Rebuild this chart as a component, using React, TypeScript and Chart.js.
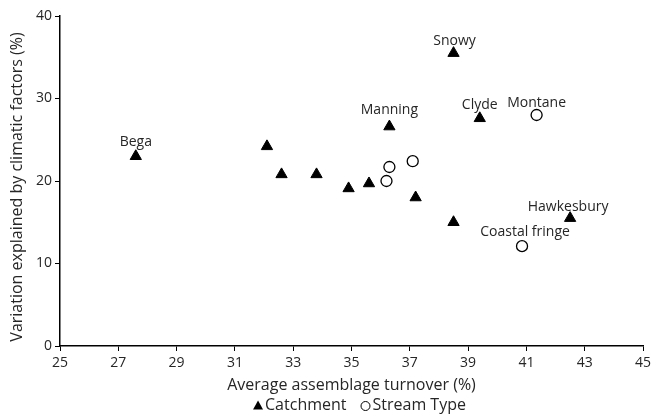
import React, { useEffect, useRef } from "react";
import { Chart, registerables } from "chart.js";

Chart.register(...registerables);

const catchmentX = [27.6, 32.1, 32.6, 33.8, 34.9, 35.6, 36.3, 37.2, 38.5, 38.5, 39.4, 42.5];
const catchmentY = [23.0, 24.2, 20.8, 20.8, 19.1, 19.7, 26.6, 18.0, 15.0, 35.5, 27.6, 15.5];
const catchmentNames = ["Bega", "", "", "", "", "", "Manning", "", "", "Snowy", "Clyde", "Hawkesbury"];

const streamX = [36.2, 36.3, 37.1, 40.85, 41.35];
const streamY = [20.0, 21.7, 22.4, 12.1, 28.0];
const streamNames = ["", "", "", "Coastal fringe", "Montane"];

const xTitle = "Average assemblage turnover (%)";
const yTitle = "Variation explained by climatic factors (%)";
const seriesNames = ["Catchment", "Stream Type"];

// label offsets in pixels (dx, dy) relative to point
const labelOffsets: Record<string, [number, number]> = {
  Bega: [0, -14],
  Manning: [0, -17],
  Snowy: [1, -12],
  Clyde: [0, -13],
  Hawkesbury: [-2, -11],
  "Coastal fringe": [3, -14],
  Montane: [0, -12],
};

const FONT = "'Open Sans', sans-serif";
const TEXT = "#262626";

const labelPlugin = {
  id: "pointLabels",
  afterDatasetsDraw(chart: any) {
    const ctx = chart.ctx;
    const xs = chart.scales.x;
    const ys = chart.scales.y;
    ctx.save();
    ctx.font = `14px ${FONT}`;
    ctx.fillStyle = TEXT;
    ctx.textAlign = "center";
    ctx.textBaseline = "middle";
    const draw = (X: number[], Y: number[], N: string[]) => {
      N.forEach((n, i) => {
        if (!n) return;
        const off = labelOffsets[n] || [0, -13];
        ctx.fillText(n, xs.getPixelForValue(X[i]) + off[0], ys.getPixelForValue(Y[i]) + off[1]);
      });
    };
    draw(catchmentX, catchmentY, catchmentNames);
    draw(streamX, streamY, streamNames);
    ctx.restore();
  },
};

const legendPlugin = {
  id: "customLegend",
  afterDraw(chart: any) {
    const ctx = chart.ctx;
    const area = chart.chartArea;
    ctx.save();
    // y-axis title (drawn slightly below centre, as in the original)
    ctx.font = `16px ${FONT}`;
    ctx.fillStyle = TEXT;
    ctx.textAlign = "center";
    ctx.textBaseline = "middle";
    ctx.save();
    ctx.translate(17, (area.top + area.bottom) / 2 + 6);
    ctx.rotate(-Math.PI / 2);
    ctx.fillText(yTitle, 0, 0);
    ctx.restore();
    // legend
    ctx.textAlign = "left";
    const y = 405;
    const m = 10, g = 2, gap = 14;
    const w0 = ctx.measureText(seriesNames[0]).width;
    const w1 = ctx.measureText(seriesNames[1]).width;
    const total = m + g + w0 + gap + m + g + w1;
    let x = (area.left + area.right) / 2 + 8 - total / 2;
    ctx.fillStyle = "#000";
    ctx.beginPath();
    ctx.moveTo(x, y + 4.5);
    ctx.lineTo(x + m, y + 4.5);
    ctx.lineTo(x + m / 2, y - 4.5);
    ctx.closePath();
    ctx.fill();
    x += m + g;
    ctx.fillStyle = TEXT;
    ctx.fillText(seriesNames[0], x, y);
    x += w0 + gap;
    ctx.strokeStyle = "#000";
    ctx.lineWidth = 1;
    ctx.beginPath();
    ctx.arc(x + m / 2, y + 1, 4.5, 0, Math.PI * 2);
    ctx.stroke();
    x += m + g;
    ctx.fillText(seriesNames[1], x, y);
    ctx.restore();
  },
};

export default function App() {
  const ref = useRef<HTMLCanvasElement>(null);
  useEffect(() => {
    document.body.style.margin = "0";
    const chart = new Chart(ref.current!, {
      type: "scatter",
      data: {
        datasets: [
          {
            label: seriesNames[0],
            data: catchmentX.map((x, i) => ({ x, y: catchmentY[i] })),
            pointStyle: "triangle",
            pointRadius: 6.5,
            backgroundColor: "#000",
            borderColor: "#000",
            borderWidth: 1,
          },
          {
            label: seriesNames[1],
            data: streamX.map((x, i) => ({ x, y: streamY[i] })),
            pointStyle: "circle",
            pointRadius: 5.5,
            backgroundColor: "#fff",
            borderColor: "#000",
            borderWidth: 1.3,
          },
        ],
      },
      options: {
        animation: false,
        responsive: false,
        maintainAspectRatio: false,
        layout: { padding: { top: 16, right: 8, left: 26, bottom: 20 } },
        plugins: {
          tooltip: { enabled: false },
          legend: { display: false },
        },
        scales: {
          x: {
            type: "linear",
            min: 25,
            max: 45,
            ticks: { stepSize: 2, color: TEXT, font: { family: FONT, size: 14 }, padding: 4 },
            grid: { display: true, drawOnChartArea: false, drawTicks: true, tickLength: 5, color: "#000", lineWidth: 1 },
            border: { color: "#000", width: 1.5 },
            title: { display: true, text: xTitle, color: TEXT, font: { family: FONT, size: 16 }, padding: { top: 0, bottom: 0 } },
            afterFit: (s: any) => { s.height = 49; s.paddingLeft = 0; s.paddingRight = 0; },
          },
          y: {
            type: "linear",
            min: 0,
            max: 40,
            ticks: { stepSize: 10, color: TEXT, font: { family: FONT, size: 14 }, padding: 3 },
            grid: { display: true, drawOnChartArea: false, drawTicks: true, tickLength: 5, color: "#000", lineWidth: 1 },
            border: { color: "#000", width: 1.5 },
            title: { display: false },
            afterFit: (s: any) => { s.width = 34; s.paddingTop = 0; s.paddingBottom = 0; },
          },
        },
      },
      plugins: [labelPlugin, legendPlugin],
    } as any);
    return () => chart.destroy();
  }, []);
  return (
    <div style={{ width: 651, height: 415 }}>
      <canvas ref={ref} width={651} height={415} style={{ display: "block" }} />
    </div>
  );
}
